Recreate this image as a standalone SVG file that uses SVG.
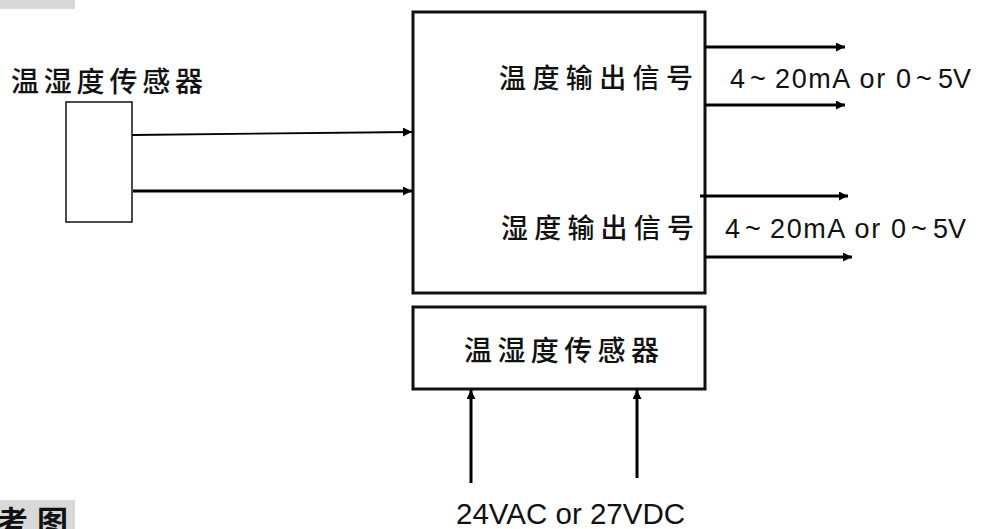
<svg xmlns="http://www.w3.org/2000/svg" width="981" height="529" viewBox="0 0 981 529">
<style>
.cjk{font-family:"Noto Sans CJK SC","Liberation Sans",sans-serif;font-size:27px;fill:#111;font-weight:500}
.lat{font-family:"Liberation Sans","Noto Sans CJK SC",sans-serif;fill:#111}
.box{fill:#fff;stroke:#111;stroke-width:3}
.wire{stroke:#000;stroke-width:3;fill:none}
</style>
<defs>
<marker id="ah" viewBox="0 0 10 10" refX="10" refY="5" markerWidth="10" markerHeight="9" markerUnits="userSpaceOnUse" orient="auto">
<path d="M0,0 L10,5 L0,10 Z" fill="#000"/>
</marker>
</defs>
<rect width="981" height="529" fill="#fff"/>
<rect x="0" y="0" width="75" height="9" fill="#d9d9d9"/>
<rect x="0" y="500" width="75" height="29" fill="#d9d9d9"/>
<text x="-3" y="533" style="font-family:'Noto Sans CJK SC',sans-serif;font-size:31px;font-weight:bold;letter-spacing:9px" fill="#111">考图</text>

<g id="sensor-left">
<text class="cjk" x="11" y="92" style="font-size:28px;letter-spacing:4.8px">温湿度传感器</text>
<rect x="66" y="102" width="66" height="120" fill="#fff" stroke="#111" stroke-width="1.5"/>
</g>

<g id="main-box">
<rect class="box" x="413" y="12" width="292" height="281"/>
<text class="cjk" x="499" y="88" style="letter-spacing:6.4px">温度输出信号</text>
<text class="cjk" x="501" y="238" style="letter-spacing:6.2px">湿度输出信号</text>
</g>

<g id="sensor-box">
<rect class="box" x="413" y="307" width="292" height="82"/>
<text class="cjk" x="464" y="361" style="font-size:28px;letter-spacing:5.4px">温湿度传感器</text>
</g>

<g id="labels">
<text class="lat" y="88" font-size="27"><tspan x="730">4</tspan><tspan x="750">~</tspan><tspan x="775" textLength="136" lengthAdjust="spacing">20mA or 0</tspan><tspan x="916">~</tspan><tspan x="938">5V</tspan></text>
<text class="lat" y="238" font-size="27"><tspan x="725">4</tspan><tspan x="745">~</tspan><tspan x="770" textLength="136" lengthAdjust="spacing">20mA or 0</tspan><tspan x="911">~</tspan><tspan x="933">5V</tspan></text>
<text class="lat" x="456" y="524" font-size="30" textLength="229" lengthAdjust="spacingAndGlyphs">24VAC or 27VDC</text>
</g>

<g id="connectors">
<line x1="132" y1="135" x2="412" y2="132" stroke="#000" stroke-width="1.8" marker-end="url(#ah)"/>
<line class="wire" x1="133" y1="191" x2="412" y2="191" marker-end="url(#ah)"/>
<line class="wire" x1="705" y1="47" x2="845" y2="47" marker-end="url(#ah)"/>
<line class="wire" x1="705" y1="105" x2="845" y2="105" marker-end="url(#ah)"/>
<line class="wire" x1="700" y1="196" x2="848" y2="196" marker-end="url(#ah)"/>
<line class="wire" x1="705" y1="257" x2="852" y2="257" marker-end="url(#ah)"/>
<line class="wire" x1="471" y1="483" x2="471" y2="390" marker-end="url(#ah)"/>
<line class="wire" x1="637" y1="478" x2="637" y2="390" marker-end="url(#ah)"/>
</g>
</svg>
